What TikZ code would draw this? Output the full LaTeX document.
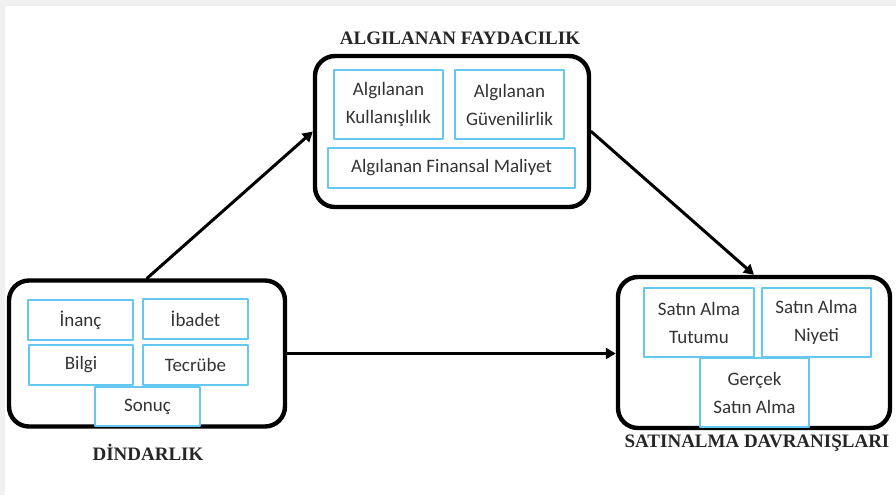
\documentclass[tikz,border=0pt]{standalone}
\usepackage{fontspec}
\setmainfont{Carlito}
\newfontfamily\titlefont{Liberation Serif}
\usetikzlibrary{arrows.meta}
\definecolor{boxblue}{RGB}{100,200,240}
\tikzset{
  group/.style={draw=black,line width=2.2pt,rounded corners=10pt,minimum width=#1},
  item/.style={draw=boxblue,line width=0.8pt,align=center,font=\fontsize{9.5}{14}\selectfont,text=black!80,inner sep=0pt},
  heading/.style={font=\titlefont\bfseries\fontsize{9.5}{11}\selectfont,text=black!85},
}
\begin{document}
\begin{tikzpicture}[line cap=round,line join=round,>={Triangle[length=5pt,width=5.5pt]},x=0.5pt,y=-0.5pt]
\useasboundingbox (0,0) rectangle (896,495);
\fill[gray!12] (0,0) rectangle (896,6);
\fill[gray!12] (0,0) rectangle (5,495);
% algilanan faydacilik
\node[group=137pt,minimum height=75.5pt] (fayda) at (452,131.5) {};
\node[item,minimum width=54.5pt,minimum height=34.5pt] (kullan) at (388.5,104.5) {Algılanan\\Kullanışlılık};
\node[item,minimum width=54.5pt,minimum height=34.5pt] (guven) at (509.5,104.5) {Algılanan\\Güvenilirlik};
\node[item,minimum width=123.5pt,minimum height=20pt] (maliyet) at (451.5,168) {Algılanan Finansal Maliyet};
\node[heading] (faydat) at (460,38) {ALGILANAN FAYDACILIK};
% dindarlik
\node[group=138pt,minimum height=73pt] (din) at (147,353.5) {};
\node[item,minimum width=52.5pt,minimum height=20pt] (inanc) at (80.5,320) {İnanç};
\node[item,minimum width=52.5pt,minimum height=20pt] (ibadet) at (195.5,319) {İbadet};
\node[item,minimum width=52pt,minimum height=20pt] (bilgi) at (81,365) {Bilgi};
\node[item,minimum width=52.5pt,minimum height=20pt] (tecrube) at (195.5,365) {Tecrübe};
\node[item,fill=white,minimum width=52.5pt,minimum height=19.5pt] (sonuc) at (147.5,406.5) {Sonuç};
\node[heading] (dint) at (148,452) {DİNDARLIK};
% satinalma davranislari
\node[group=136pt,minimum height=75.5pt] (satin) at (754,352.5) {};
\node[item,minimum width=55pt,minimum height=34.5pt] (tutum) at (699,322.5) {Satın Alma\\Tutumu};
\node[item,minimum width=54.5pt,minimum height=34.5pt] (niyet) at (816.5,322.5) {Satın Alma\\Niyeti};
\node[item,fill=white,minimum width=54.5pt,minimum height=34.5pt] (gercek) at (754.5,392.5) {Gerçek\\Satın Alma};
\node[heading] (satint) at (757,443) {SATINALMA DAVRANIŞLARI};
% oklar
\draw[->,line width=1.5pt] (din.north) -- (fayda.west);
\draw[->,line width=1.5pt] (fayda.east) -- (satin.north);
\draw[->,line width=1.5pt] (din.east) -- (din.east -| satin.west);
\end{tikzpicture}
\end{document}
